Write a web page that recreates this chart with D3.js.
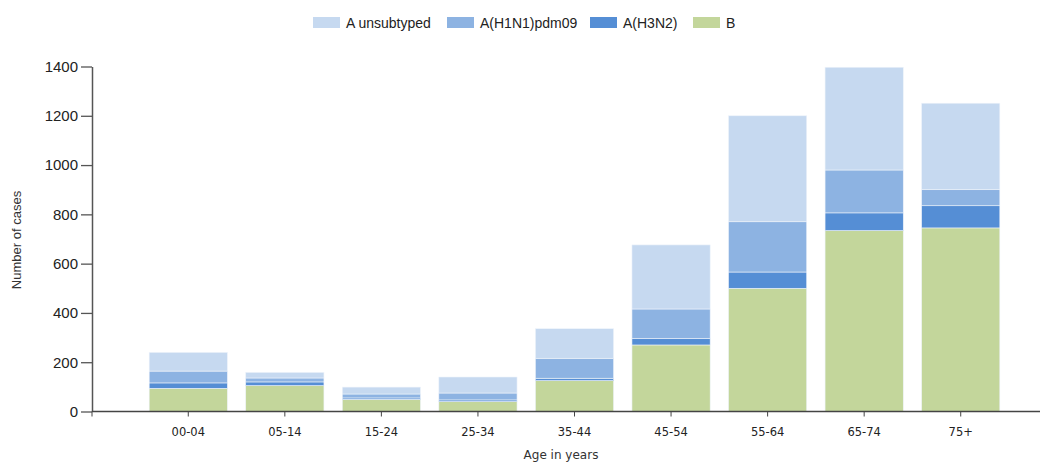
<!DOCTYPE html>
<meta charset="utf-8">
<style>
body { margin: 0; background: #fff; }
text { font-family: "Liberation Sans", Arial, sans-serif; }
</style>
<svg width="1046" height="462"></svg>
<script src="https://d3js.org/d3.v7.min.js"></script>
<script>

// values
var ages = ["00-04", "05-14", "15-24", "25-34", "35-44", "45-54", "55-64", "65-74", "75+"]
var seriesNames = ["B", "A(H3N2)", "A(H1N1)pdm09", "A unsubtyped"]
var valB = [94, 105, 49, 40, 125, 270, 500, 734, 745]
var valH3N2 = [22, 15, 6, 7, 10, 26, 66, 72, 90]
var valH1N1 = [48, 16, 16, 28, 81, 120, 204, 174, 65]
var valUnsub = [76, 23, 28, 65, 120, 260, 430, 417, 351]
var yTicks = [0, 200, 400, 600, 800, 1000, 1200, 1400]
var colors = ["#c3d69b", "#558ed5", "#8db3e2", "#c6d9f0"]
var legendOrder = ["A unsubtyped", "A(H1N1)pdm09", "A(H3N2)", "B"]

var rows = ages.map(function(a, i) {
  return {age: a, "B": valB[i], "A(H3N2)": valH3N2[i], "A(H1N1)pdm09": valH1N1[i], "A unsubtyped": valUnsub[i]}
})
var stacked = d3.stack().keys(seriesNames)(rows)

var svg = d3.select("svg")
var left = 92, bottom = 411.5

var x = d3.scaleBand().domain(ages).range([140, 1009]).paddingInner(0.19).paddingOuter(0.095)
var y = d3.scaleLinear().domain([0, 1400]).range([bottom, 66.5])
var color = d3.scaleOrdinal().domain(seriesNames).range(colors)

// bars
svg.append("g").selectAll("g")
  .data(stacked)
  .enter().append("g")
  .attr("fill", function(d) { return color(d.key) })
  .selectAll("rect")
  .data(function(d) { return d })
  .enter().append("rect")
  .attr("x", function(d) { return x(d.data.age) })
  .attr("width", x.bandwidth())
  .attr("y", function(d) { return y(d[1]) })
  .attr("height", function(d) { return y(d[0]) - y(d[1]) })
  .attr("stroke", "#eef3fa")
  .attr("stroke-width", 0.6)

// y axis
var ya = svg.append("g").attr("transform", "translate(" + left + ",0)")
  .call(d3.axisLeft(y).tickValues(yTicks).tickFormat(d3.format("d")).tickSize(11).tickPadding(3).tickSizeOuter(0))
ya.select(".domain").attr("stroke", "#555").attr("stroke-width", 1.5)
ya.selectAll(".tick line").attr("stroke", "#555").attr("stroke-width", 1.3)
ya.selectAll("text").style("font-size", "15px").attr("fill", "#222")

// x axis
var xa = svg.append("g").attr("transform", "translate(0," + bottom + ")")
  .call(d3.axisBottom(x).tickSize(5).tickPadding(11).tickSizeOuter(0))
xa.select(".domain").remove()
xa.selectAll(".tick line").attr("stroke", "#444")
xa.selectAll("text").style("font-family", "'DejaVu Sans', Verdana, sans-serif").style("font-size", "11.5px").attr("fill", "#222")
xa.append("line").attr("x1", left).attr("x2", 1040).attr("y1", 0).attr("y2", 0)
  .attr("stroke", "#444").attr("stroke-width", 1.3)
xa.append("line").attr("x1", left).attr("x2", left).attr("y1", 0).attr("y2", 5)
  .attr("stroke", "#444")

// axis titles
svg.append("text")
  .attr("x", 561).attr("y", 459)
  .attr("text-anchor", "middle")
  .style("font-family", "'DejaVu Sans', Verdana, sans-serif")
  .style("font-size", "12px").attr("fill", "#333")
  .text("Age in years")

svg.append("text")
  .attr("transform", "translate(21,240)rotate(-90)")
  .attr("text-anchor", "middle")
  .style("font-size", "13px").attr("fill", "#333")
  .text("Number of cases")

// legend
var legX = [313, 447, 590, 693]
var leg = svg.append("g").selectAll("g")
  .data(legendOrder)
  .enter().append("g")
  .attr("transform", function(d, i) { return "translate(" + legX[i] + ",17)" })
leg.append("rect").attr("width", 27).attr("height", 11)
  .attr("fill", function(d) { return color(d) })
leg.append("text").attr("x", 33).attr("y", 10.5)
  .style("font-size", "14px").attr("fill", "#222")
  .text(function(d) { return d })

</script>
